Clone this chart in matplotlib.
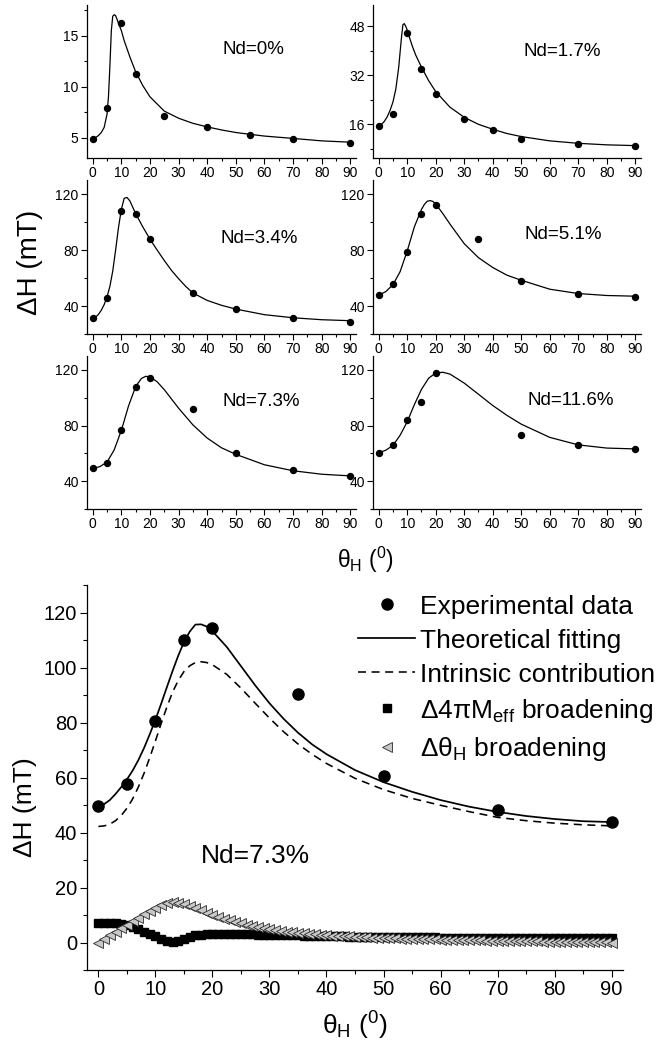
import numpy as np
import matplotlib.pyplot as plt
from matplotlib import font_manager
from matplotlib.ticker import MultipleLocator

plt.rcParams['font.family'] = ['Liberation Sans', 'DejaVu Sans']
plt.rcParams['mathtext.fontset'] = 'custom'
plt.rcParams['mathtext.rm'] = 'Liberation Sans'
plt.rcParams['mathtext.it'] = 'Liberation Sans:italic'
plt.rcParams['mathtext.bf'] = 'Liberation Sans:bold'

# condensed face for the big panel's tick numbers, if there is one
names = {f.name for f in font_manager.fontManager.ttflist}
if 'Liberation Sans Narrow' in names:
    tick_font, tick_size = 'Liberation Sans Narrow', 17
else:
    tick_font, tick_size = 'Liberation Sans', 14.5

# ---- measured linewidth vs field angle, six Nd contents ----
th_0 = [0, 5, 10, 15, 25, 40, 55, 70, 90]
dh_0 = [4.87, 7.94, 16.2, 11.27, 7.16, 6.05, 5.26, 4.87, 4.48]
th_17 = [0, 5, 10, 15, 20, 30, 40, 50, 70, 90]
dh_17 = [15.35, 19.5, 45.9, 34.1, 26.0, 17.6, 14.0, 11.2, 9.7, 9.0]
th_34 = [0, 5, 10, 15, 20, 35, 50, 70, 90]
dh_34 = [31.6, 46.0, 108.0, 105.4, 87.6, 49.5, 37.6, 31.6, 28.7]
th_51 = [0, 5, 10, 15, 20, 35, 50, 70, 90]
dh_51 = [48.1, 55.5, 78.8, 105.9, 112.1, 87.9, 57.7, 48.9, 46.5]
th_73 = [0, 5, 10, 15, 20, 35, 50, 70, 90]
dh_73 = [49.3, 53.4, 77.1, 107.8, 114.3, 92.0, 60.6, 47.9, 43.6]
th_116 = [0, 5, 10, 15, 20, 50, 70, 90]
dh_116 = [60.6, 66.3, 83.8, 96.8, 117.6, 73.5, 65.9, 63.2]

# ---- fitted curves ----
fth_0 = [0, 1, 2, 3, 4, 5, 5.5, 6, 6.5, 7, 7.5, 8, 8.5, 9, 10, 11, 12, 13, 15, 17.5,
         20, 25, 30, 35, 40, 45, 50, 55, 60, 70, 80, 90]
fdh_0 = [4.93, 5.0, 5.2, 5.5, 6.0, 7.3, 9.0, 12.0, 15.5, 16.9, 17.05, 16.95, 16.6, 16.2,
         15.5, 14.5, 13.7, 12.9, 11.45, 10.1, 9.0, 7.6, 6.9, 6.4, 6.05, 5.75, 5.5, 5.32,
         5.15, 4.92, 4.68, 4.55]
fth_17 = [0, 1, 2, 3, 4, 5, 6, 7, 7.5, 8, 8.5, 9, 9.5, 10, 11, 12, 13, 15, 17.5, 20,
          25, 30, 35, 40, 45, 50, 60, 70, 80, 90]
fdh_17 = [15.4, 16.0, 17.0, 18.5, 20.6, 23.3, 27.5, 34.5, 39.5, 44.5, 48.6, 48.9, 48.0,
          46.8, 43.8, 41.0, 38.6, 34.7, 30.3, 26.7, 21.6, 18.3, 16.0, 14.4, 13.0, 12.0,
          10.6, 9.8, 9.3, 9.05]
fth_34 = [0, 1, 2, 3, 4, 5, 6, 7, 8, 9, 10, 11, 12, 13, 14, 15, 17.5, 20, 22.5, 25,
          27.5, 30, 32.5, 35, 40, 45, 50, 60, 70, 80, 90]
fdh_34 = [31.0, 32.0, 34.0, 37.0, 41.0, 46.5, 54.0, 65.0, 80.0, 96.0, 109.0, 117.0,
          117.5, 115.0, 110.5, 106.0, 96.5, 87.8, 80.0, 72.5, 65.5, 59.5, 54.0, 49.3,
          44.0, 40.5, 37.8, 33.8, 31.6, 30.2, 29.5]
fth_51 = [0, 2.5, 5, 7.5, 10, 12.5, 15, 16, 17, 18, 19, 20, 22.5, 25, 30, 35, 40, 45,
          50, 60, 70, 80, 90]
fdh_51 = [47.7, 50.3, 55.2, 64.5, 79.3, 96.5, 109.0, 112.5, 114.8, 115.3, 114.7, 112.8,
          106.0, 98.5, 84.5, 74.5, 67.5, 62.0, 58.4, 52.0, 48.9, 47.5, 47.0]
fth_73 = [0, 2.5, 5, 7.5, 10, 12.5, 15, 17, 18.5, 20, 22.5, 25, 30, 35, 40, 45, 50, 60,
          70, 80, 90]
fdh_73 = [49.0, 50.5, 53.7, 62.5, 76.5, 94.0, 108.0, 113.8, 115.4, 115.0, 111.5, 105.8,
          92.5, 80.5, 71.0, 64.0, 59.3, 51.8, 47.5, 45.0, 43.8]
fth_116 = [0, 2.5, 5, 7.5, 10, 12.5, 15, 17.5, 20, 22.5, 25, 30, 35, 40, 45, 50, 60, 70,
           80, 90]
fdh_116 = [60.3, 62.3, 65.7, 73.0, 82.7, 95.0, 106.0, 114.0, 117.8, 118.3, 117.0, 110.5,
           102.5, 94.4, 87.3, 81.0, 71.5, 66.1, 63.8, 63.2]

# ---- Nd=7.3% decomposition ----
exp_th = [0, 5, 10, 15, 20, 35, 50, 70, 90]
exp_dh = [49.6, 57.8, 80.6, 109.9, 114.4, 90.2, 60.7, 48.1, 43.7]
fit_th = [0, 1, 2, 3, 4, 5, 6, 7, 8, 9, 10, 11, 12, 13, 14, 15, 16, 17, 18, 19, 20,
          22.5, 25, 27.5, 30, 32.5, 35, 37.5, 40, 45, 50, 55, 60, 65, 70, 75, 80, 85, 90]
fit_total = [49.6, 50.3, 51.8, 54.0, 56.5, 59.3, 62.5, 66.3, 70.7, 75.7, 81.0, 86.8,
             92.8, 98.7, 104.3, 109.2, 113.0, 115.6, 115.7, 114.9, 113.2, 107.5, 100.5,
             93.5, 87.0, 81.3, 76.3, 72.0, 68.5, 62.7, 58.3, 54.8, 51.8, 49.4, 47.5,
             46.0, 44.9, 44.1, 43.8]
fit_intr = [42.2, 42.4, 43.0, 44.3, 46.2, 48.8, 52.2, 56.5, 61.5, 67.2, 73.3, 79.6,
            85.6, 91.0, 95.3, 98.5, 100.6, 101.8, 102.1, 101.8, 101.0, 97.5, 92.5, 87.0,
            81.6, 76.6, 72.2, 68.4, 65.1, 59.7, 55.6, 52.4, 49.9, 47.6, 45.5, 44.3,
            43.4, 42.8, 42.4]
bro_th = np.arange(0, 91)
bro_meff = [7.2, 7.2, 7.1, 7.0, 6.7, 6.2, 5.5, 4.8, 4.0, 3.1,
            2.2, 1.3, 0.5, 0.2, 0.6, 1.4, 2.1, 2.6, 2.9, 3.1,
            3.2, 3.25, 3.25, 3.2, 3.2, 3.1, 3.05, 3.0, 2.9, 2.85,
            2.8, 2.75, 2.7, 2.65, 2.6, 2.55, 2.5, 2.45, 2.4, 2.35,
            2.3, 2.27, 2.24, 2.21, 2.18, 2.15, 2.12, 2.09, 2.06, 2.03,
            2.0, 1.98, 1.96, 1.94, 1.92, 1.9, 1.88, 1.86, 1.84, 1.82,
            1.8, 1.79, 1.78, 1.77, 1.76, 1.75, 1.74, 1.73, 1.72, 1.71,
            1.7, 1.69, 1.68, 1.67, 1.66, 1.65, 1.64, 1.63, 1.62, 1.61,
            1.6, 1.6, 1.59, 1.59, 1.58, 1.58, 1.57, 1.57, 1.56, 1.56, 1.55]
bro_theta = [0.0, 1.3, 2.6, 3.9, 5.2, 6.5, 7.8, 9.0, 10.2, 11.4,
             12.5, 13.5, 14.3, 14.6, 14.4, 13.9, 13.2, 12.5, 11.7, 10.9,
             10.1, 9.4, 8.7, 8.1, 7.5, 7.0, 6.5, 6.0, 5.6, 5.2,
             4.8, 4.5, 4.2, 3.95, 3.7, 3.5, 3.3, 3.1, 2.95, 2.8,
             2.65, 2.5, 2.4, 2.3, 2.2, 2.1, 2.0, 1.9, 1.8, 1.72,
             1.65, 1.58, 1.51, 1.45, 1.39, 1.33, 1.27, 1.21, 1.16, 1.11,
             1.06, 1.01, 0.96, 0.92, 0.88, 0.84, 0.80, 0.76, 0.72, 0.68,
             0.64, 0.60, 0.56, 0.53, 0.49, 0.46, 0.42, 0.39, 0.36, 0.33,
             0.30, 0.27, 0.24, 0.21, 0.18, 0.15, 0.12, 0.09, 0.06, 0.03, 0.0]

W, H = 663, 1049
fig = plt.figure(figsize=(W / 100, H / 100), dpi=100)


def px(l, t, r, b):
    return [l / W, 1 - b / H, (r - l) / W, (b - t) / H]


def style(ax, fs, tl=4):
    ax.spines['top'].set_visible(False)
    ax.spines['right'].set_visible(False)
    for s in ('left', 'bottom'):
        ax.spines[s].set_linewidth(0.9)
    ax.tick_params(which='major', direction='out', length=tl, width=0.8, labelsize=fs, pad=2)
    ax.tick_params(which='minor', direction='out', length=tl * 0.6, width=0.8)
    ax.set_xlim(-2, 92)
    ax.xaxis.set_major_locator(MultipleLocator(10))
    ax.xaxis.set_minor_locator(MultipleLocator(5))


def small_panel(rect, th, dh, fth, fdh, ylim, ymaj, label, lx, ly):
    ax = fig.add_axes(rect)
    ax.plot(fth, fdh, color='k', lw=0.9)
    ax.plot(th, dh, 'o', color='k', ms=4.3, clip_on=False)
    style(ax, 10)
    ax.set_ylim(*ylim)
    ax.yaxis.set_major_locator(MultipleLocator(ymaj))
    ax.yaxis.set_minor_locator(MultipleLocator(ymaj / 2))
    ax.text(lx, ly, label, transform=ax.transAxes, fontsize=13.5, va='center', ha='left')
    return ax


small_panel(px(87, 5, 356, 158), th_0, dh_0, fth_0, fdh_0, (3, 18), 5, 'Nd=0%', 0.504, 0.706)
small_panel(px(373, 5, 641, 158), th_17, dh_17, fth_17, fdh_17, (5, 55), 16, 'Nd=1.7%', 0.561, 0.695)
small_panel(px(87, 180, 356, 334), th_34, dh_34, fth_34, fdh_34, (20, 130), 40, 'Nd=3.4%', 0.497, 0.621)
small_panel(px(373, 180, 641, 334), th_51, dh_51, fth_51, fdh_51, (20, 130), 40, 'Nd=5.1%', 0.567, 0.643)
small_panel(px(87, 356, 356, 509), th_73, dh_73, fth_73, fdh_73, (20, 130), 40, 'Nd=7.3%', 0.504, 0.701)
small_panel(px(373, 356, 641, 509), th_116, dh_116, fth_116, fdh_116, (20, 130), 40, 'Nd=11.6%', 0.576, 0.712)

fig.text(30 / W, 1 - 262 / H, 'ΔH (mT)', rotation=90, fontsize=20, ha='center', va='center')
fig.text(366 / W, 1 - 560 / H, r'θ$_{\rm H}$ ($^{\rm 0}$)', fontsize=16.5, ha='center', va='center')

# ---- big panel ----
ax = fig.add_axes(px(87, 585, 623, 970))
ax.plot(exp_th, exp_dh, 'o', color='k', ms=8, zorder=5, clip_on=False, label='Experimental data')
ax.plot(fit_th, fit_total, '-', color='k', lw=1.25, label='Theoretical fitting')
ax.plot(fit_th, fit_intr, '--', color='k', lw=1.15, dashes=(5, 3.5), label='Intrinsic contribution')
ax.plot(bro_th, bro_meff, 's', color='k', ms=5.8, label=r'Δ4πM$_{\rm eff}$ broadening')
ax.plot(bro_th, bro_theta, '<', mfc='#c8c8c8', mec='#2a2a2a', mew=0.6, ms=7.8,
        label=r'Δθ$_{\rm H}$ broadening')
style(ax, tick_size, tl=5)
for t in ax.get_xticklabels() + ax.get_yticklabels():
    t.set_family([tick_font, 'DejaVu Sans'])
ax.set_ylim(-10, 130)
ax.yaxis.set_major_locator(MultipleLocator(20))
ax.yaxis.set_minor_locator(MultipleLocator(10))
ax.set_xlabel(r'θ$_{\rm H}$ ($^{\rm 0}$)', fontsize=19, labelpad=8)
fig.text(25 / W, 1 - 807 / H, 'ΔH (mT)', rotation=90, fontsize=19, ha='center', va='center')
ax.text(18, 31.3, 'Nd=7.3%', fontsize=19, va='center', ha='left')
ax.legend(loc='upper left', bbox_to_anchor=(0.506, 0.975), frameon=False, fontsize=19,
          numpoints=1, handlelength=2.15, handletextpad=0.2, labelspacing=0.38,
          borderpad=0, borderaxespad=0)

fig.savefig('out.png', dpi=100)
